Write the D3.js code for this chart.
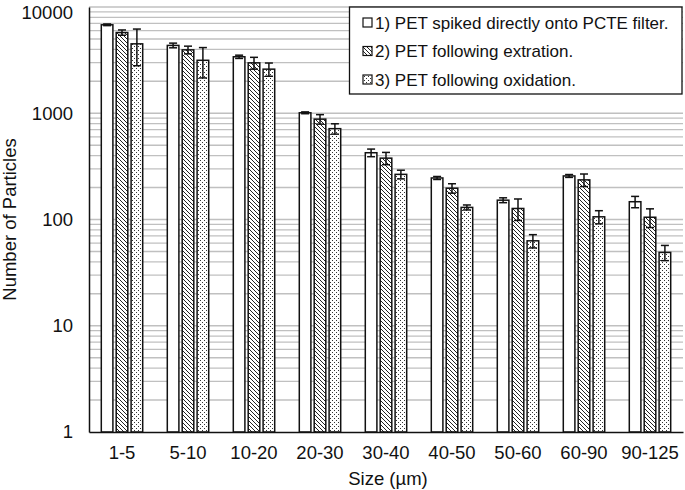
<!DOCTYPE html>
<html><head><meta charset="utf-8">
<script src="https://cdn.jsdelivr.net/npm/d3@7"></script>
<style>body{margin:0;background:#fff}svg{display:block;font-family:"Liberation Sans",Arial,sans-serif}</style>
</head><body>
<svg id="chart" width="685" height="490"></svg>
<script>
const categories = ["1-5","5-10","10-20","20-30","30-40","40-50","50-60","60-90","90-125"];
const seriesNames = ["1) PET spiked directly onto PCTE filter.","2) PET following extration.","3) PET following oxidation."];
const s1 = [6800, 4350, 3400, 1010, 425, 246, 152, 257, 147];
const e1 = [120, 220, 120, 20, 35, 8, 8, 8, 18];
const s2 = [5750, 3950, 2980, 880, 378, 197, 127, 236, 105];
const e2 = [330, 330, 380, 90, 50, 20, 29, 32, 21];
const s3 = [4500, 3150, 2600, 716, 266, 130, 63, 106, 49];
const e3 = [1700, 1000, 370, 80, 25, 7, 9, 15, 8];
const yTicks = [1, 10, 100, 1000, 10000];

const svg = d3.select("#chart");
const m = {left: 89, right: 683, top: 7, bottom: 432};
const defs = svg.append("defs");
const hatch = defs.append("pattern").attr("id","hatch").attr("patternUnits","userSpaceOnUse").attr("width",4).attr("height",4);
hatch.append("rect").attr("width",4).attr("height",4).attr("fill","#fff");
hatch.append("path").attr("d","M-1,-1 L5,5 M-1,3 L1,5 M3,-1 L5,1").attr("stroke","#222").attr("stroke-width",1);
const dots = defs.append("pattern").attr("id","dots").attr("patternUnits","userSpaceOnUse").attr("width",4).attr("height",4);
dots.append("rect").attr("width",4).attr("height",4).attr("fill","#fff");
dots.append("rect").attr("x",0).attr("y",0).attr("width",1).attr("height",1).attr("fill","#333");
dots.append("rect").attr("x",2).attr("y",2).attr("width",1).attr("height",1).attr("fill","#333");
const fills = ["#fff","url(#hatch)","url(#dots)"];

const x = d3.scaleBand().domain(categories).range([m.left, m.right]).paddingInner(0).paddingOuter(0);
const y = d3.scaleLog().domain([1, 10000]).range([m.bottom, m.top]);

// grid lines (major + minor)
const gridVals = [];
for (let d = 1; d < 10000; d *= 10) for (let k = 1; k < 10; k++) gridVals.push(d * k);
gridVals.push(10000);
svg.append("g").selectAll("line").data(gridVals.filter(v => v > 1)).join("line")
  .attr("x1", m.left).attr("x2", m.right)
  .attr("y1", d => y(d)).attr("y2", d => y(d))
  .attr("stroke", "#c0c0c0").attr("stroke-width", 1.3);

// bars
const series = [
  {vals: s1, errs: e1},
  {vals: s2, errs: e2},
  {vals: s3, errs: e3}
];
const bw = 11.6, gap = 3.3;
const groupW = 3 * bw + 2 * gap;
series.forEach((s, si) => {
  const g = svg.append("g");
  const xs = (i) => x(categories[i]) + x.bandwidth() / 2 - groupW / 2 + si * (bw + gap);
  g.selectAll("rect").data(s.vals).join("rect")
    .attr("x", (d, i) => xs(i)).attr("width", bw)
    .attr("y", d => y(d)).attr("height", d => m.bottom - y(d))
    .attr("fill", fills[si]).attr("stroke", "#111").attr("stroke-width", 1.5);
  const eg = svg.append("g").attr("stroke", "#111").attr("stroke-width", 1.5);
  s.vals.forEach((v, i) => {
    const cx = xs(i) + bw / 2;
    const hi = y(v + s.errs[i]), lo = y(Math.max(v - s.errs[i], 1));
    eg.append("line").attr("x1", cx).attr("x2", cx).attr("y1", hi).attr("y2", lo);
    eg.append("line").attr("x1", cx - 4).attr("x2", cx + 4).attr("y1", hi).attr("y2", hi);
    eg.append("line").attr("x1", cx - 4).attr("x2", cx + 4).attr("y1", lo).attr("y2", lo);
  });
});

// axes
const FS = 18.5;
const yAxis = d3.axisLeft(y).tickValues(yTicks).tickFormat(d3.format("d")).tickSize(0).tickPadding(16);
const ya = svg.append("g").attr("transform", `translate(${m.left},0)`).call(yAxis);
ya.select(".domain").attr("stroke", "#111").attr("stroke-width", 1.5);
ya.selectAll("text").attr("font-size", FS).attr("fill", "#111").attr("font-family", "Liberation Sans, Arial, sans-serif")
  .attr("dy", d => d === 10000 ? "0.62em" : "0.32em");

const xAxis = d3.axisBottom(x).tickSize(0).tickPadding(14);
const xa = svg.append("g").attr("transform", `translate(0,${m.bottom})`).call(xAxis);
xa.select(".domain").attr("stroke", "#111").attr("stroke-width", 1.5);
xa.selectAll("text").attr("font-size", FS).attr("fill", "#111").attr("font-family", "Liberation Sans, Arial, sans-serif");

// axis titles
svg.append("text").attr("x", (m.left + m.right) / 2 + 2).attr("y", 485).attr("text-anchor", "middle")
  .attr("font-size", FS).attr("fill", "#111").text("Size (µm)");
svg.append("text").attr("transform", `translate(16,${(m.top + m.bottom) / 2}) rotate(-90)`).attr("text-anchor", "middle")
  .attr("font-size", FS).attr("fill", "#111").text("Number of Particles");

// legend
const lg = svg.append("g");
lg.append("rect").attr("x", 349.5).attr("y", 7).attr("width", 332.5).attr("height", 87)
  .attr("fill", "#fff").attr("stroke", "#111").attr("stroke-width", 1.3);
seriesNames.forEach((n, i) => {
  const cy = 22.5 + i * 28.5;
  lg.append("rect").attr("x", 363).attr("y", cy - 4.5).attr("width", 9).attr("height", 9)
    .attr("fill", fills[i]).attr("stroke", "#111").attr("stroke-width", 1.2);
  lg.append("text").attr("x", 375).attr("y", cy + 6).attr("font-size", 17).attr("fill", "#111").text(n);
});
</script>
</body></html>
